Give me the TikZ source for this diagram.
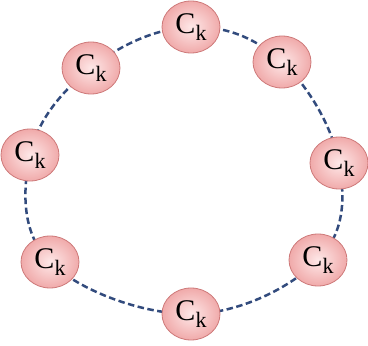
\documentclass[tikz,border=0pt]{standalone}
\usepackage{fontspec}
\setmainfont{Liberation Serif}
\usetikzlibrary{shapes.geometric}
\definecolor{nodein}{RGB}{254,232,232}
\definecolor{nodeout}{RGB}{240,170,170}
\definecolor{nodeborder}{RGB}{205,120,120}
\definecolor{ringblue}{RGB}{50,75,125}
\tikzset{
  cnode/.style={ellipse, draw=nodeborder, line width=0.8pt, shading=radial,
    inner color=nodein, outer color=nodeout, minimum width=58pt,
    minimum height=52pt, inner sep=0pt},
  ring/.style={draw=ringblue, line width=2.5pt, dash pattern=on 6.5pt off 3.5pt}
}
\newcommand{\ck}{{\fontsize{30}{30}\selectfont C}\raisebox{-7pt}{\fontsize{22}{22}\selectfont k}}
\begin{document}
\begin{tikzpicture}[x=1pt,y=1pt]
\useasboundingbox (0,0) rectangle (368,346);
\coordinate (t) at (191,319);
\coordinate (tr) at (282,284);
\coordinate (r) at (339,183);
\coordinate (br) at (318,86);
\coordinate (b) at (191,32);
\coordinate (bl) at (50,84);
\coordinate (l) at (30,191);
\coordinate (tl) at (91,278);
\draw[ring] plot[smooth cycle, tension=0.65] coordinates {(t) (tr) (r) (br) (b) (bl) (l) (tl)};
\node[cnode] (nt) at (t) {\ck};
\node[cnode] (ntr) at (tr) {\ck};
\node[cnode] (nr) at (r) {\ck};
\node[cnode] (nbr) at (br) {\ck};
\node[cnode] (nb) at (b) {\ck};
\node[cnode] (nbl) at (bl) {\ck};
\node[cnode] (nl) at (l) {\ck};
\node[cnode] (ntl) at (tl) {\ck};
\end{tikzpicture}
\end{document}
